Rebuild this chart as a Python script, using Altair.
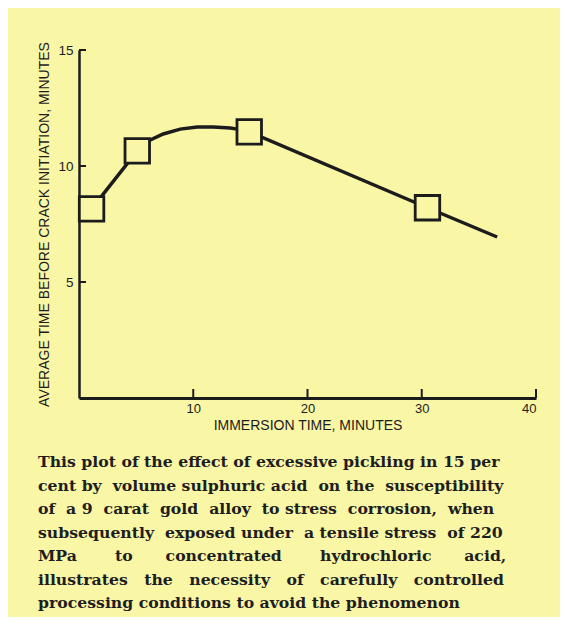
import altair as alt
import pandas as pd

# measured points (squares)
pt_x = [1.1, 5.1, 14.9, 30.5]
pt_y = [8.15, 10.65, 11.47, 8.2]

# traced curve
curve_x = [1.1, 5.1, 6.06, 7.37, 8.86, 10.35, 11.75, 13.24, 13.85, 14.9, 30.5, 36.6]
curve_y = [8.15, 10.65, 11.08, 11.38, 11.59, 11.68, 11.68, 11.64, 11.59, 11.47, 8.2, 6.94]

x_ticks = [10, 20, 30, 40]
y_ticks = [5, 10, 15]

NB = "\u00a0"
caption = [
    "This plot of the effect of excessive pickling in 15 per",
    "cent by" + NB + " volume sulphuric acid" + NB + " on the" + NB + " susceptibility",
    "of" + NB + " a 9" + NB + " carat" + NB + " gold" + NB + " alloy" + NB + " to stress" + NB + " corrosion," + NB + " when",
    "subsequently" + NB + " exposed under" + NB + " a tensile stress" + NB + " of 220",
    ("MPa" + NB * 7 + "to" + NB * 6 + "concentrated" + NB * 7 + "hydrochloric" + NB * 6 + "acid,"),
    ("illustrates" + NB * 3 + "the" + NB * 3 + "necessity" + NB * 3 + "of" + NB * 3 + "carefully" + NB * 3 + "controlled"),
    "processing conditions to avoid the phenomenon",
]

BG = "#F9F6A6"
INK = "#1c1c1c"
W, H = 457, 348

pts = pd.DataFrame({"x": pt_x, "y": pt_y})
crv = pd.DataFrame({"x": curve_x, "y": curve_y, "o": list(range(len(curve_x)))})
xt = pd.DataFrame({"v": x_ticks})
yt = pd.DataFrame({"v": y_ticks})

xscale = alt.Scale(domain=[0, 40], nice=False, zero=False)
yscale = alt.Scale(domain=[0, 15], nice=False, zero=False)

axis_font = "Liberation Sans Narrow, Liberation Sans, Arial"

xaxis = alt.Axis(
    values=x_ticks, ticks=False, grid=False, domainColor=INK, domainWidth=3,
    labelFont=axis_font, labelFontSize=13, labelColor=INK, labelPadding=4,
    title="IMMERSION TIME,  MINUTES", titleFont=axis_font, titleFontSize=14,
    titleFontWeight="normal", titleColor=INK, titlePadding=3,
)
yaxis = alt.Axis(
    values=y_ticks, ticks=False, grid=False, domainColor=INK, domainWidth=2.5,
    labelFont=axis_font, labelFontSize=13.5, labelColor=INK, labelPadding=6,
    title="AVERAGE TIME BEFORE CRACK INITIATION, MINUTES", titleFont=axis_font,
    titleFontSize=14, titleFontWeight="normal", titleColor=INK, titlePadding=6,
)

line = alt.Chart(crv).mark_line(color=INK, strokeWidth=3.5).encode(
    x=alt.X("x:Q", scale=xscale, axis=xaxis),
    y=alt.Y("y:Q", scale=yscale, axis=yaxis),
    order="o:Q",
)
squares = alt.Chart(pts).mark_point(
    shape="square", size=600, filled=False, fill=BG, fillOpacity=1,
    stroke=INK, strokeWidth=2.8, opacity=1,
).encode(x=alt.X("x:Q", scale=xscale), y=alt.Y("y:Q", scale=yscale))

xtick = alt.Chart(xt).mark_rule(color=INK, strokeWidth=2).encode(
    x=alt.X("v:Q", scale=xscale), y=alt.value(H), y2=alt.value(H - 9)
)
ytick = alt.Chart(yt).mark_rule(color=INK, strokeWidth=2).encode(
    y=alt.Y("v:Q", scale=yscale), x=alt.value(0), x2=alt.value(7)
)

chart = alt.layer(line, squares, xtick, ytick).properties(
    width=W, height=H,
    autosize=alt.AutoSizeParams(type="none"),
    padding={"left": 71, "top": 42, "right": 24, "bottom": 219},
    title=alt.TitleParams(
        text=caption, orient="bottom", anchor="start", frame="bounds",
        font="DejaVu Serif", fontSize=15.7, fontWeight="bold",
        color="#1e1e1e", lineHeight=23.5, offset=23, dx=0,
    ),
).configure(background=BG).configure_view(stroke=None)

chart.save("out.html", embed_options={"renderer": "svg", "actions": False})
